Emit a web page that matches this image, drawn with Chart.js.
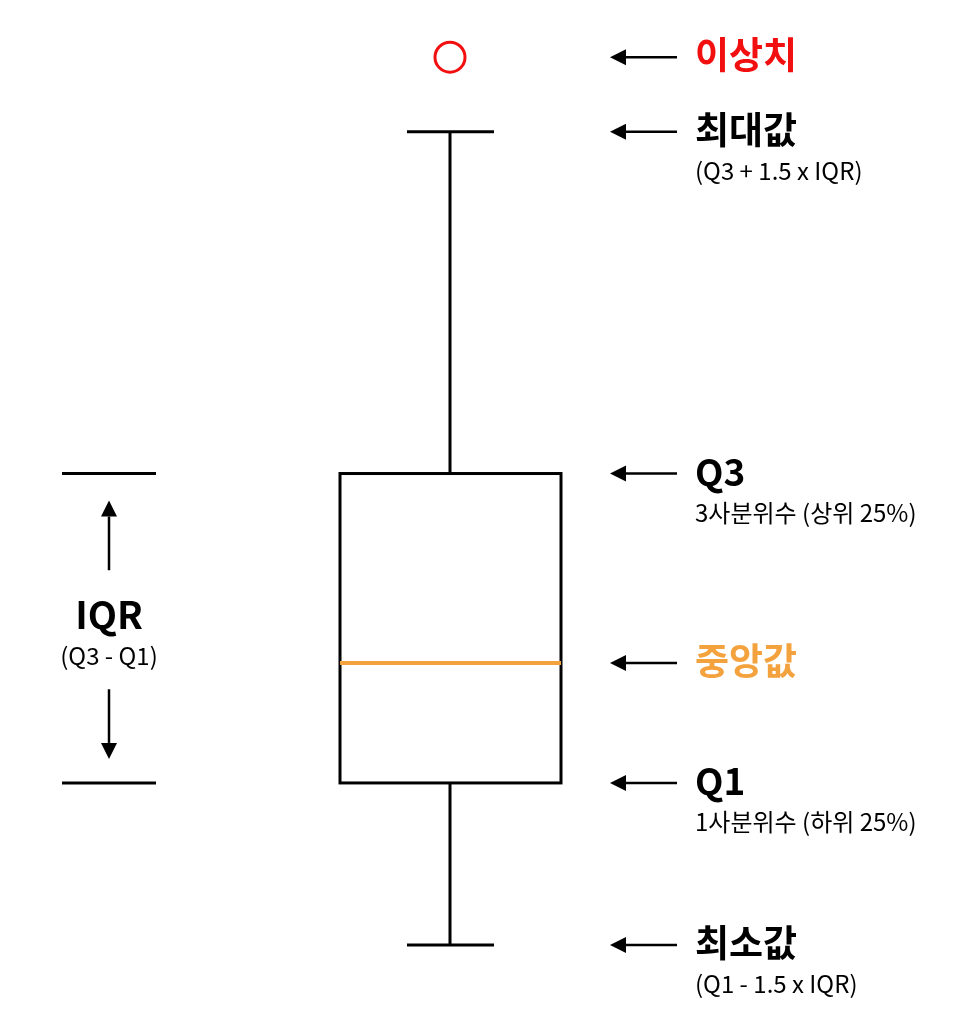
<!DOCTYPE html>
<html>
<head>
<meta charset="utf-8">
<script src="https://cdn.jsdelivr.net/npm/chart.js@4"></script>
<style>
  body { margin: 0; background: #fff; }
  #wrap { width: 979px; height: 1024px; }
</style>
</head>
<body>
<div id="wrap"><canvas id="chart1"></canvas></div>
<script>
// box plot values (schematic)
var boxStats = [10, 20, 27.4, 39.1, 60.2]; // min, q1, median, q3, max
var outliers = [64.8];
var labelTitles = ['최소값', 'Q1', '중앙값', 'Q3', '최대값'];
var labelNotes = ['(Q1 - 1.5 x IQR)', '1사분위수 (하위 25%)', '', '3사분위수 (상위 25%)', '(Q3 + 1.5 x IQR)'];
var outlierTitle = '이상치';
var iqrTitle = 'IQR';
var iqrNote = '(Q3 - Q1)';

var RED = '#f20f0f';
var ORANGE = '#f4a23e';
var FONT = '"Noto Sans CJK KR", "Noto Sans", sans-serif';

function arrow(ctx, x1, y1, x2, y2) {
    // line from (x1,y1) to tip (x2,y2)
    var ang = Math.atan2(y2 - y1, x2 - x1);
    var hl = 16, hw = 8;
    var bx = x2 - Math.cos(ang) * hl, by = y2 - Math.sin(ang) * hl;
    ctx.strokeStyle = '#000';
    ctx.fillStyle = '#000';
    ctx.lineWidth = 2.5;
    ctx.beginPath();
    ctx.moveTo(x1, y1);
    ctx.lineTo(bx, by);
    ctx.stroke();
    ctx.beginPath();
    ctx.moveTo(x2, y2);
    ctx.lineTo(bx - Math.sin(ang) * hw, by + Math.cos(ang) * hw);
    ctx.lineTo(bx + Math.sin(ang) * hw, by - Math.cos(ang) * hw);
    ctx.closePath();
    ctx.fill();
}

var boxPlugin = {
    id: 'boxPlugin',
    beforeDatasetsDraw: function(chart) {
        var ctx = chart.ctx;
        var xs = chart.scales.x, ys = chart.scales.y;
        var cx = xs.getPixelForValue(0);
        var yMin = ys.getPixelForValue(boxStats[0]);
        var yQ1 = ys.getPixelForValue(boxStats[1]);
        var yMed = ys.getPixelForValue(boxStats[2]);
        var yQ3 = ys.getPixelForValue(boxStats[3]);
        var yMax = ys.getPixelForValue(boxStats[4]);
        var boxL = cx - 110, boxR = cx + 111;
        ctx.save();
        ctx.strokeStyle = '#000';
        ctx.lineWidth = 3;
        // whiskers
        ctx.beginPath();
        ctx.moveTo(cx, yMax); ctx.lineTo(cx, yQ3);
        ctx.moveTo(cx, yQ1); ctx.lineTo(cx, yMin);
        ctx.moveTo(cx - 43, yMax); ctx.lineTo(cx + 44, yMax);
        ctx.moveTo(cx - 43, yMin); ctx.lineTo(cx + 44, yMin);
        ctx.stroke();
        // box
        ctx.strokeRect(boxL, yQ3, boxR - boxL, yQ1 - yQ3);
        // median
        ctx.strokeStyle = ORANGE;
        ctx.lineWidth = 4;
        ctx.beginPath();
        ctx.moveTo(boxL, yMed); ctx.lineTo(boxR, yMed);
        ctx.stroke();

        // IQR bracket on the left
        ctx.strokeStyle = '#000';
        ctx.lineWidth = 3;
        ctx.beginPath();
        ctx.moveTo(62, yQ3); ctx.lineTo(156, yQ3);
        ctx.moveTo(62, yQ1); ctx.lineTo(156, yQ1);
        ctx.stroke();
        var ix = 109;
        var iqrMid = (yQ3 + yQ1) / 2;
        arrow(ctx, ix, iqrMid - 58, ix, yQ3 + 27);
        arrow(ctx, ix, iqrMid + 61, ix, yQ1 - 24);
        ctx.fillStyle = '#000';
        ctx.textAlign = 'center';
        ctx.textBaseline = 'middle';
        ctx.font = 'bold 38px ' + FONT;
        ctx.fillText(iqrTitle, ix, iqrMid - 14);
        ctx.font = '24px ' + FONT;
        ctx.fillText(iqrNote, ix, iqrMid + 28);

        // right hand labels
        var ax1 = 677, ax2 = 610, tx = 695;
        var vals = boxStats.concat(outliers);
        var titles = labelTitles.concat([outlierTitle]);
        var notes = labelNotes.concat(['']);
        for (var i = 0; i < vals.length; i++) {
            var py = ys.getPixelForValue(vals[i]);
            arrow(ctx, ax1, py, ax2, py);
            ctx.textAlign = 'left';
            ctx.textBaseline = 'middle';
            ctx.font = 'bold 37px ' + FONT;
            ctx.fillStyle = '#000';
            if (i == 2) ctx.fillStyle = ORANGE;
            if (i == 5) ctx.fillStyle = RED;
            ctx.fillText(titles[i], tx, py - 2);
            if (notes[i]) {
                ctx.fillStyle = '#000';
                ctx.font = '24px ' + FONT;
                ctx.fillText(notes[i], tx, py + 39);
            }
        }
        ctx.restore();
    }
};

var outlierPoints = [];
for (i = 0; i < outliers.length; i++) {
    outlierPoints.push({x: 0, y: outliers[i]});
}

const CHART1 = document.getElementById("chart1");
let boxChart = new Chart(CHART1, {
    type: 'scatter',
    data: {
        datasets: [
            {
                label: outlierTitle,
                data: outlierPoints,
                pointRadius: 15,
                pointHoverRadius: 15,
                pointBorderWidth: 3,
                pointBorderColor: RED,
                pointBackgroundColor: '#fff'
            }
        ]
    },
    options: {
        responsive: true,
        maintainAspectRatio: false,
        animation: false,
        layout: { padding: 0, autoPadding: false },
        plugins: { legend: { display: false }, tooltip: { enabled: false } },
        scales: {
            x: { type: 'linear', min: -450, max: 529, display: false },
            y: { type: 'linear', min: 5.12, max: 68.33, display: false }
        }
    },
    plugins: [boxPlugin]
});
</script>
</body>
</html>
